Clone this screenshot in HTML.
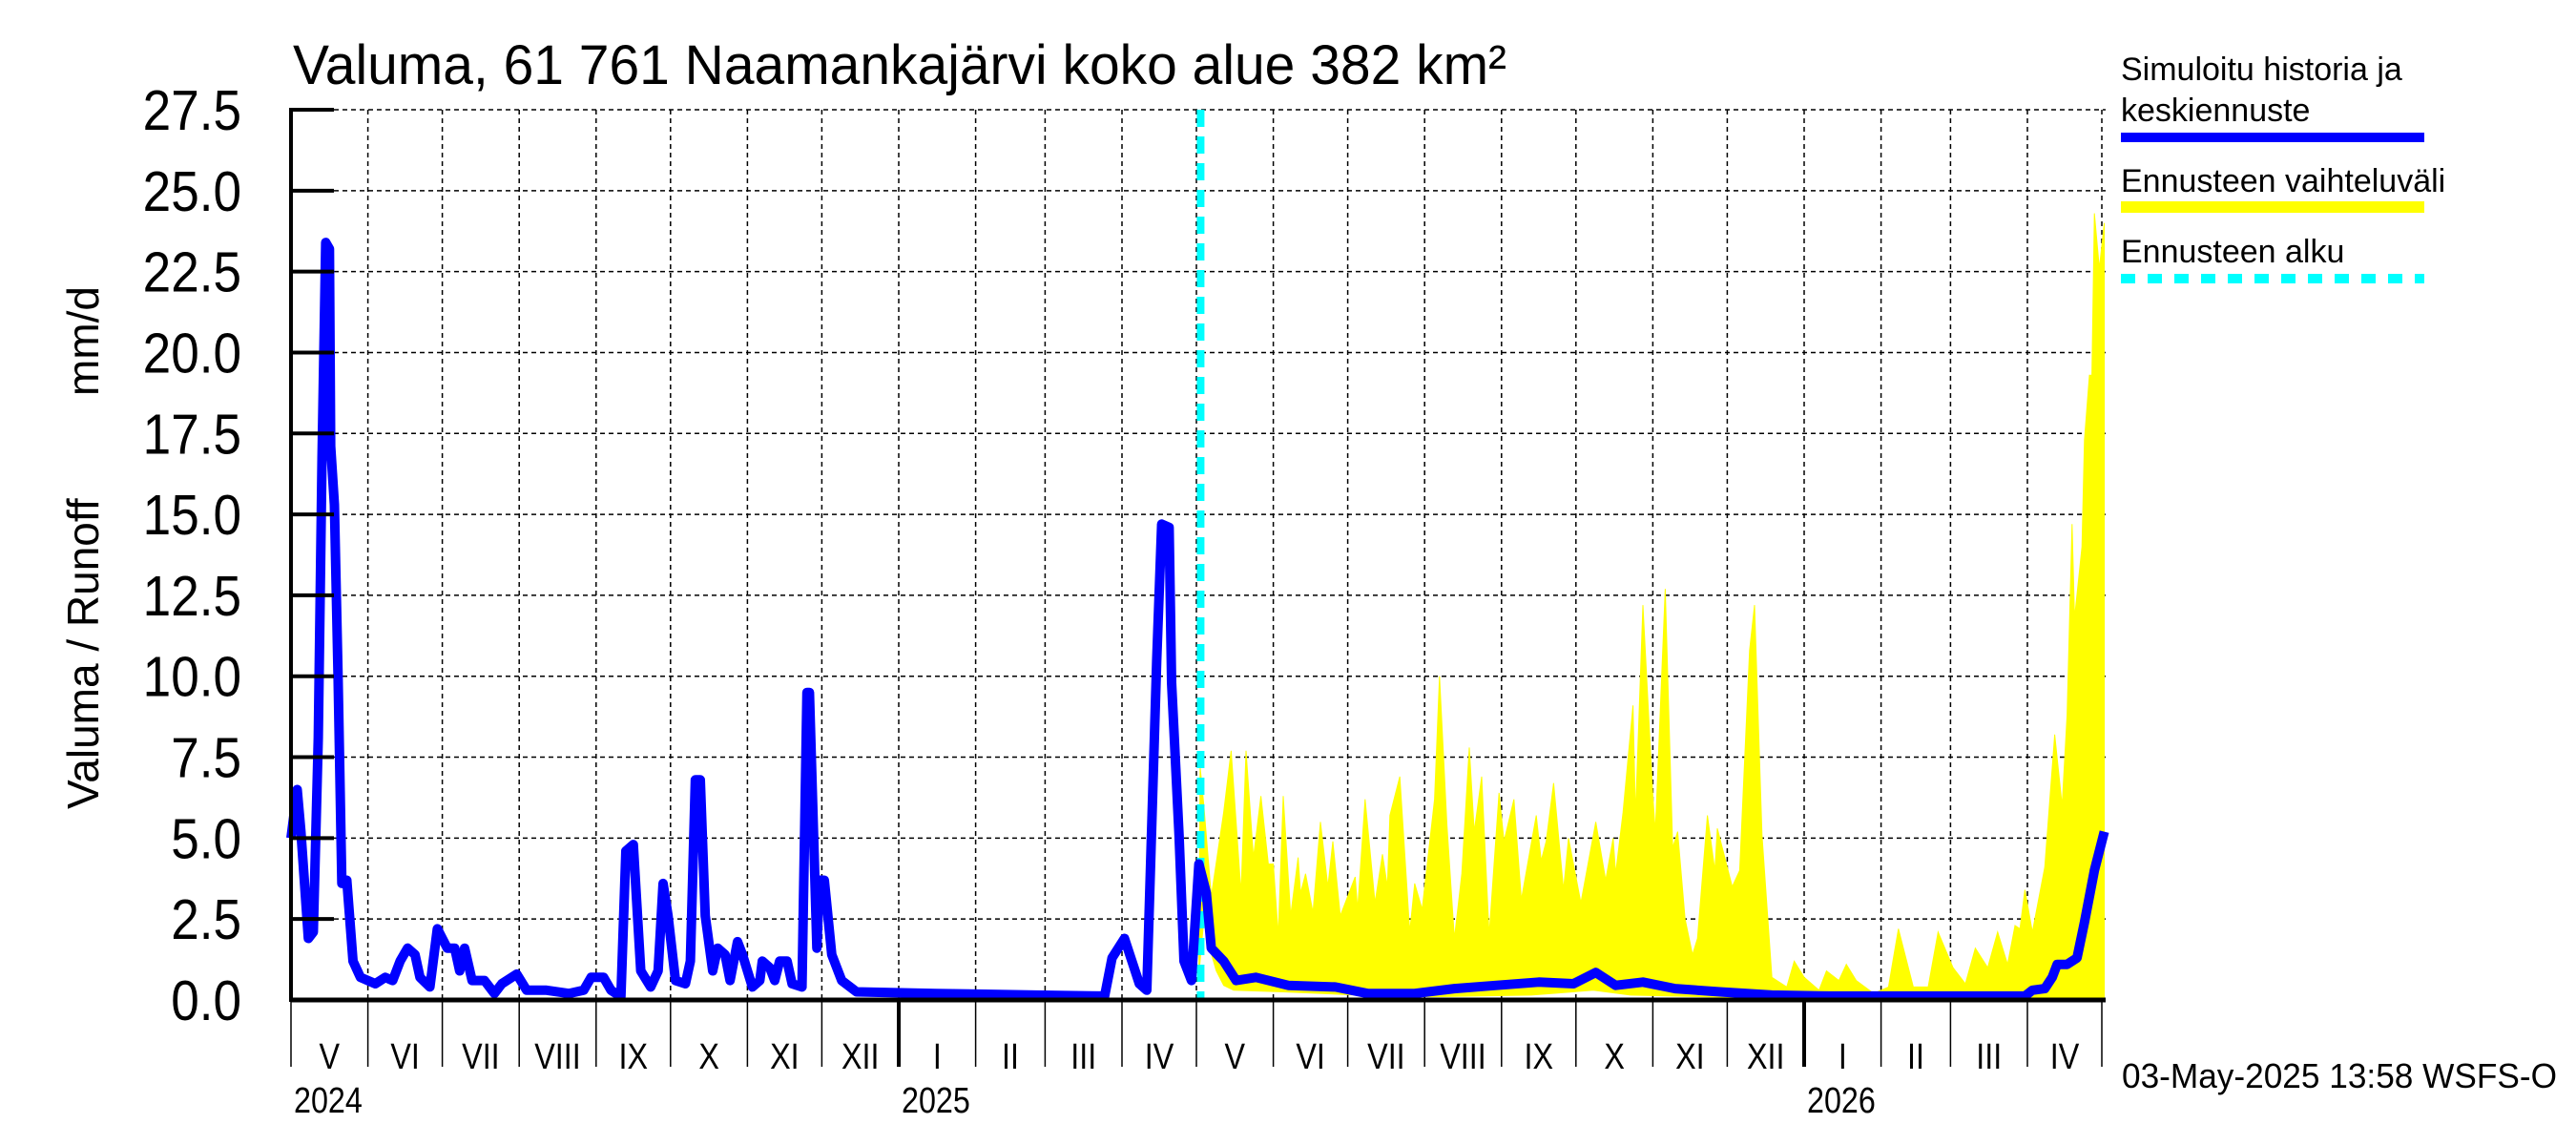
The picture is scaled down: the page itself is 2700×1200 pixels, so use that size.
<!DOCTYPE html>
<html><head><meta charset="utf-8"><style>
html,body{margin:0;padding:0;background:#fff;}
svg{display:block;font-family:"Liberation Sans",sans-serif;}
</style></head><body>
<svg id="chart" width="2700" height="1200" viewBox="0 0 2700 1200" xmlns="http://www.w3.org/2000/svg">
<rect width="2700" height="1200" fill="#fff"/>
<text x="307" y="88" font-size="58" textLength="1272" lengthAdjust="spacingAndGlyphs">Valuma, 61 761 Naamankajärvi koko alue 382 km²</text>
<g id="grid"></g>
<g id="band"></g>
<g id="series"></g>
<g id="axes"></g>
<text transform="translate(103,848) rotate(-90)" font-size="46">Valuma / Runoff</text>
<text transform="translate(103,415) rotate(-90)" font-size="46">mm/d</text>
<g>
<text x="2223" y="84" font-size="34">Simuloitu historia ja</text>
<text x="2223" y="127" font-size="34">keskiennuste</text>
<rect x="2223" y="139" width="318" height="10" fill="#0000ff"/>
<text x="2223" y="201" font-size="34">Ennusteen vaihteluväli</text>
<rect x="2223" y="211" width="318" height="12" fill="#ffff00"/>
<text x="2223" y="275" font-size="34">Ennusteen alku</text>
<line x1="2223" y1="292" x2="2541" y2="292" stroke="#00ffff" stroke-width="10" stroke-dasharray="15,13"/>
</g>
<text x="2224" y="1140" font-size="36" textLength="456" lengthAdjust="spacingAndGlyphs">03-May-2025 13:58 WSFS-O</text>
</svg>
<script>
const yTicks = [0, 2.5, 5, 7.5, 10, 12.5, 15, 17.5, 20, 22.5, 25, 27.5];
const yTickLabels = ["0.0","2.5","5.0","7.5","10.0","12.5","15.0","17.5","20.0","22.5","25.0","27.5"];
const monthLabels = ["I","II","III","IV","V","VI","VII","VIII","IX","X","XI","XII"];
const forecastStartDay = 366.7;
const blueDays = [0,2.5,4,7,9,11,12.5,14,15.5,16,17.5,19,20.5,22.5,25,28,34,38,41,44,47,50,52,56,59,63,66,68,70,73,78,82,85,91,95,103,112,118,121,126,129,133,135,138,141,145,148,150,152,155,159,161,163,165,167,170,172,175,177,180,182,186,189,190,193,195,197,200,202,206,208,209,212,213,215,218,222,228,260,300,328,331,336,339,342,345,349,351,354,355,358,360,363,366,369,371,376,381,389,402,421,434,453,469,486,503,517,526,534,545,558,576,597,620,699,702,707,710,712,716,720,723,727,731];
const blueVals = [5.0,6.5,5.2,1.9,2.1,8.1,16.7,23.4,23.2,17.1,15.3,9.9,3.6,3.7,1.2,0.7,0.5,0.7,0.6,1.2,1.6,1.4,0.7,0.4,2.2,1.6,1.6,0.9,1.6,0.6,0.6,0.2,0.5,0.8,0.3,0.3,0.2,0.3,0.7,0.7,0.3,0.1,4.6,4.8,0.9,0.4,0.9,3.6,2.6,0.6,0.5,1.2,6.8,6.8,2.6,0.9,1.6,1.4,0.6,1.8,1.4,0.4,0.6,1.2,1.0,0.6,1.2,1.2,0.5,0.4,9.5,9.5,1.6,3.7,3.7,1.4,0.6,0.25,0.2,0.15,0.12,1.3,1.9,1.2,0.5,0.3,10.5,14.7,14.6,9.8,5.1,1.2,0.6,4.2,3.3,1.6,1.2,0.6,0.7,0.45,0.4,0.2,0.2,0.35,0.45,0.55,0.5,0.85,0.45,0.55,0.35,0.25,0.15,0.12,0.12,0.3,0.35,0.7,1.1,1.1,1.3,2.4,4.0,5.2];
const upperDays = [366,366.5,368,371,376,379,383,385,388,391,394,396,398,400,403,406,407,409,412,415,418,420,423,429,430,433,437,440,442,443,447,451,453,456,461,463,466,469,472,475,477,480,483,487,489,493,496,502,504,506,509,513,515,520,526,530,533,534,537,541,542,545,549,550,554,557,559,562,565,567,571,574,575,581,584,588,590,593,597,603,606,610,616,619,624,627,631,638,644,648,654,660,664,670,675,679,684,688,692,695,697,699,702,707,711,714,716,718,719,722,723,725,726,727,729,731];
const upperVals = [0.8,7.2,6.0,3.2,5.8,7.7,3.3,7.7,4.4,6.3,4.2,4.2,2.0,6.3,2.6,4.4,3.3,3.9,2.7,5.5,3.5,4.9,2.6,3.8,2.8,6.2,3.0,4.5,3.5,5.7,6.9,2.1,3.6,2.8,6.2,10.0,5.4,1.9,3.9,7.8,5.2,6.9,2.0,6.4,4.9,6.2,3.1,5.7,4.3,4.9,6.7,3.4,5.0,3.0,5.5,3.7,5.0,3.9,5.8,9.1,5.7,12.2,6.3,5.2,12.7,4.7,5.2,2.5,1.4,1.9,5.7,4.0,5.3,3.5,4.0,10.8,12.2,5.1,0.7,0.4,1.2,0.7,0.3,0.9,0.6,1.1,0.6,0.2,0.4,2.2,0.4,0.4,2.1,1.0,0.5,1.6,1.0,2.1,1.1,2.3,2.2,3.4,2.1,4.1,8.2,6.0,8.8,14.7,11.8,14.0,17.3,19.3,19.3,24.3,22.6,24.0];
const lowerDays = [366,368,370,373,376,380,400,430,460,500,525,540,580,731];
const lowerVals = [0.8,2.5,1.7,0.9,0.45,0.3,0.25,0.15,0.1,0.15,0.3,0.15,0.08,0.05];

const NS = "http://www.w3.org/2000/svg";
const X0 = 305, X1 = 2207, PXD = 2.6, Y0 = 1048, YTOP = 115, YMAX = 27.5;
const startDate = Date.UTC(2024, 4, 1);
function x(d) { return X0 + d * PXD; }
function y(v) { return Y0 - v / YMAX * (Y0 - YTOP); }
function dayOf(yr, m) { return (Date.UTC(yr, m, 1) - startDate) / 86400000; }
function mk(tag, attrs, parent) {
  const e = document.createElementNS(NS, tag);
  for (const k in attrs) e.setAttribute(k, attrs[k]);
  parent.appendChild(e);
  return e;
}
const grid = document.getElementById('grid');
const axes = document.getElementById('axes');
const band = document.getElementById('band');
const series = document.getElementById('series');

yTicks.forEach((t, i) => {
  if (t > 0) {
    const g = mk('line', {x1: 350, x2: X1, y1: y(t), y2: y(t), stroke: '#000', 'stroke-width': 1.5, 'stroke-dasharray': '5,4'}, grid);
    
    
  }
  const tk = mk('line', {x1: X0, x2: 350, y1: y(t), y2: y(t), stroke: '#000', 'stroke-width': 4}, axes);
  
  
  const lb = mk('text', {transform: 'translate(253,' + (y(t) + 21) + ') scale(0.9,1)', 'font-size': 59, 'text-anchor': 'end'}, axes);
  lb.textContent = yTickLabels[i];
  
  
});

const months = [];
for (let k = 0; k <= 24; k++) {
  const yr = 2024 + Math.floor((4 + k) / 12), m = (4 + k) % 12;
  months.push({yr, m, d: dayOf(yr, m)});
}
months.forEach((mo, k) => {
  const xx = x(mo.d);
  if (k > 0) {
    const g = mk('line', {x1: xx, x2: xx, y1: YTOP, y2: Y0, stroke: '#000', 'stroke-width': 1.5, 'stroke-dasharray': '5,4'}, grid);
    
    
  }
  const isYear = mo.m === 0;
  const tk = mk('line', {x1: xx, x2: xx, y1: Y0, y2: 1118, stroke: '#000', 'stroke-width': isYear ? 4 : 1.5}, axes);
  
  
  if (k < 24) {
    const xn = x(months[k + 1].d);
    const lb = mk('text', {transform: 'translate(' + ((xx + xn) / 2) + ',1120) scale(0.85,1)', 'font-size': 38, 'text-anchor': 'middle'}, axes);
    lb.textContent = monthLabels[mo.m];
    
    
  }
  if (isYear || k === 0) {
    const yl = mk('text', {transform: 'translate(' + (xx + 3) + ',1166) scale(0.85,1)', 'font-size': 38}, axes);
    yl.textContent = String(mo.yr);
    
    
  }
});

let pts = [];
upperDays.forEach((d, i) => pts.push(x(d).toFixed(1) + ',' + y(upperVals[i]).toFixed(1)));
for (let i = lowerDays.length - 1; i >= 0; i--) pts.push(x(lowerDays[i]).toFixed(1) + ',' + y(lowerVals[i]).toFixed(1));
const poly = mk('polygon', {points: pts.join(' '), fill: '#ffff00', stroke: '#ffff00', 'stroke-width': 1}, band);



const fs = mk('line', {x1: x(forecastStartDay), x2: x(forecastStartDay), y1: YTOP, y2: Y0, stroke: '#00ffff', 'stroke-width': 8, 'stroke-dasharray': '18,10'}, series);



const bp = blueDays.map((d, i) => x(d).toFixed(1) + ',' + y(blueVals[i]).toFixed(1)).join(' ');
const bl = mk('polyline', {points: bp, fill: 'none', stroke: '#0000ff', 'stroke-width': 10, 'stroke-linejoin': 'round'}, series);



const ya = mk('line', {x1: X0, x2: X0, y1: YTOP - 2, y2: Y0 + 2, stroke: '#000', 'stroke-width': 4}, axes);


const xa = mk('line', {x1: X0, x2: X1, y1: Y0, y2: Y0, stroke: '#000', 'stroke-width': 5}, axes);


</script>
</body></html>
